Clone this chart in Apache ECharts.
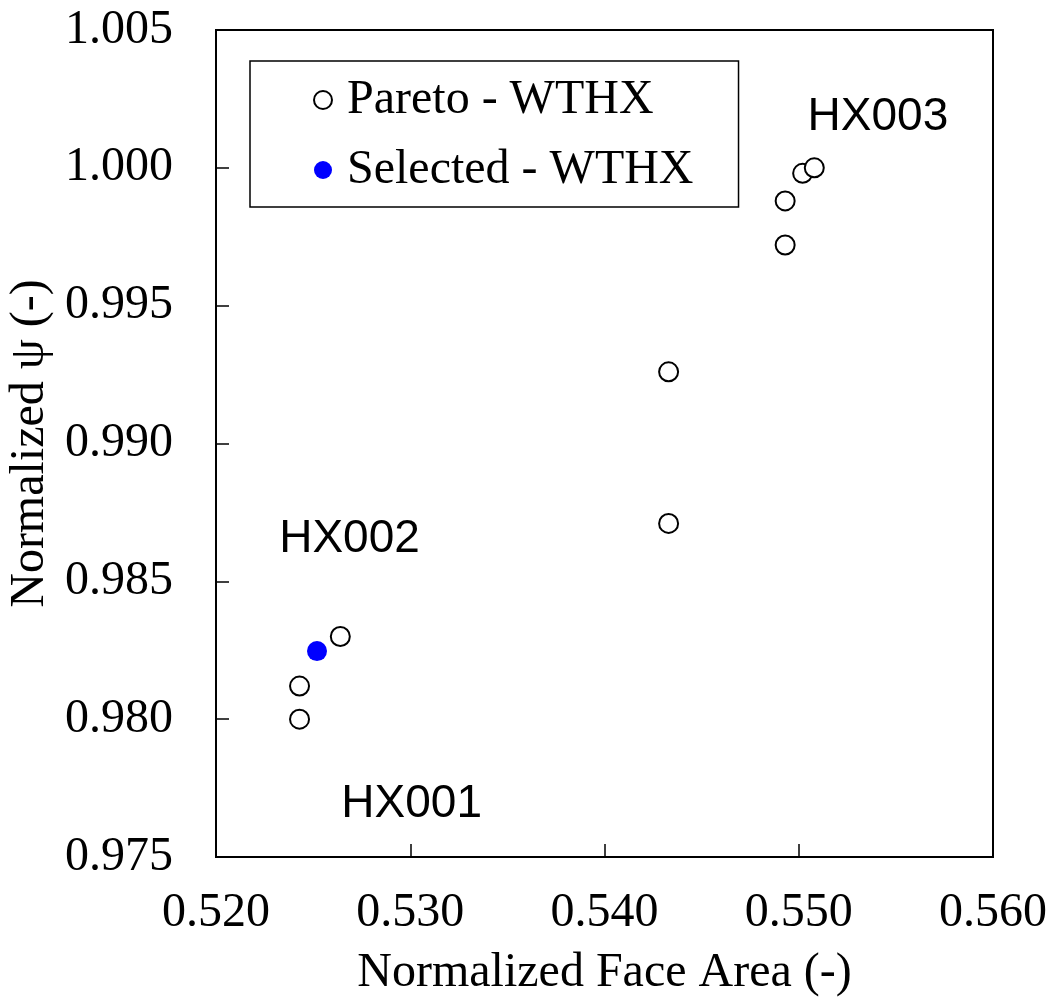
<!DOCTYPE html>
<html>
<head>
<meta charset="utf-8">
<script src="https://cdn.jsdelivr.net/npm/echarts@6/dist/echarts.min.js"></script>
<style>
  html, body { margin: 0; padding: 0; background: #fff; }
  #chart { width: 1052px; height: 1000px; }
</style>
</head>
<body>
<div id="chart"></div>
<script>
// Pareto front (normalized face area, normalized psi)
const paretoArea = [0.5243, 0.5243, 0.5264, 0.5433, 0.5433, 0.5493, 0.5493, 0.5502, 0.5508];
const paretoPsi  = [0.9800, 0.9812, 0.9830, 0.9871, 0.9926, 0.9972, 0.9988, 0.9998, 1.0000];

const selectedArea = [0.5252];
const selectedPsi  = [0.98247];

const hxNames = ['HX001', 'HX002', 'HX003'];
const hxArea  = [0.5301, 0.5269, 0.5541];
const hxPsi   = [0.9769, 0.9865, 1.0018];

const xTicks = { min: 0.520, max: 0.560, interval: 0.010 };
const yTicks = { min: 0.975, max: 1.005, interval: 0.005 };

const serif = 'Liberation Serif';
const sans = 'Liberation Sans';

const chart = echarts.init(document.getElementById('chart'));

const option = {
    backgroundColor: '#fff',
    animation: false,
    grid: {
        left: 216, top: 30, right: 59, bottom: 143,
        containLabel: false, outerBoundsMode: 'none',
        show: true, borderColor: '#000', borderWidth: 2
    },
    legend: {
        left: 250,
        top: 61,
        orient: 'vertical',
        padding: [14, 45, 12, 63],
        itemGap: 20,
        itemWidth: 18,
        itemHeight: 18,
        borderColor: '#000',
        borderWidth: 1.5,
        textStyle: { fontFamily: serif, fontSize: 48, lineHeight: 50, color: '#000', padding: [0, 0, 0, 10] },
        data: ['Pareto - WTHX', 'Selected - WTHX']
    },
    xAxis: {
        type: 'value',
        min: xTicks.min, max: xTicks.max, interval: xTicks.interval,
        name: 'Normalized Face Area (-)',
        nameLocation: 'middle',
        nameGap: 92,
        nameTextStyle: { fontFamily: serif, fontSize: 48, color: '#000' },
        axisLine: { show: true, lineStyle: { color: '#000', width: 2 } },
        axisTick: { show: true, inside: true, length: 13, lineStyle: { color: '#000', width: 1.5 } },
        axisLabel: { fontFamily: serif, fontSize: 48, color: '#000', margin: 32, formatter: v => v.toFixed(3) },
        splitLine: { show: false }
    },
    yAxis: {
        type: 'value',
        min: yTicks.min, max: yTicks.max, interval: yTicks.interval,
        name: 'Normalized ψ (-)',
        nameLocation: 'middle',
        nameGap: 155,
        nameTextStyle: { fontFamily: serif, fontSize: 48, color: '#000' },
        axisLine: { show: true, lineStyle: { color: '#000', width: 2 } },
        axisTick: { show: true, inside: true, length: 13, lineStyle: { color: '#000', width: 1.5 } },
        axisLabel: { fontFamily: serif, fontSize: 48, color: '#000', margin: 43, formatter: v => v.toFixed(3) },
        splitLine: { show: false }
    },
    series: [
        {
            name: 'Pareto - WTHX',
            type: 'scatter',
            symbol: 'circle',
            symbolSize: 19,
            itemStyle: { color: '#fff', borderColor: '#000', borderWidth: 2, opacity: 1 },
            data: paretoArea.map((x, i) => [x, paretoPsi[i]]),
            z: 3
        },
        {
            name: 'Selected - WTHX',
            type: 'scatter',
            symbol: 'circle',
            symbolSize: 20,
            itemStyle: { color: '#0000ff', opacity: 1 },
            data: selectedArea.map((x, i) => [x, selectedPsi[i]]),
            z: 4
        },
        {
            name: 'labels',
            type: 'scatter',
            symbolSize: 1,
            silent: true,
            itemStyle: { color: 'rgba(0,0,0,0)' },
            label: {
                show: true,
                position: [0, 0],
                align: 'center',
                verticalAlign: 'middle',
                formatter: p => p.data.name,
                fontFamily: sans,
                fontSize: 46,
                color: '#000',
                opacity: 1,
                textBorderWidth: 0
            },
            data: hxNames.map((n, i) => ({ name: n, value: [hxArea[i], hxPsi[i]] })),
            z: 5
        }
    ]
};

chart.setOption(option);
</script>
</body>
</html>
